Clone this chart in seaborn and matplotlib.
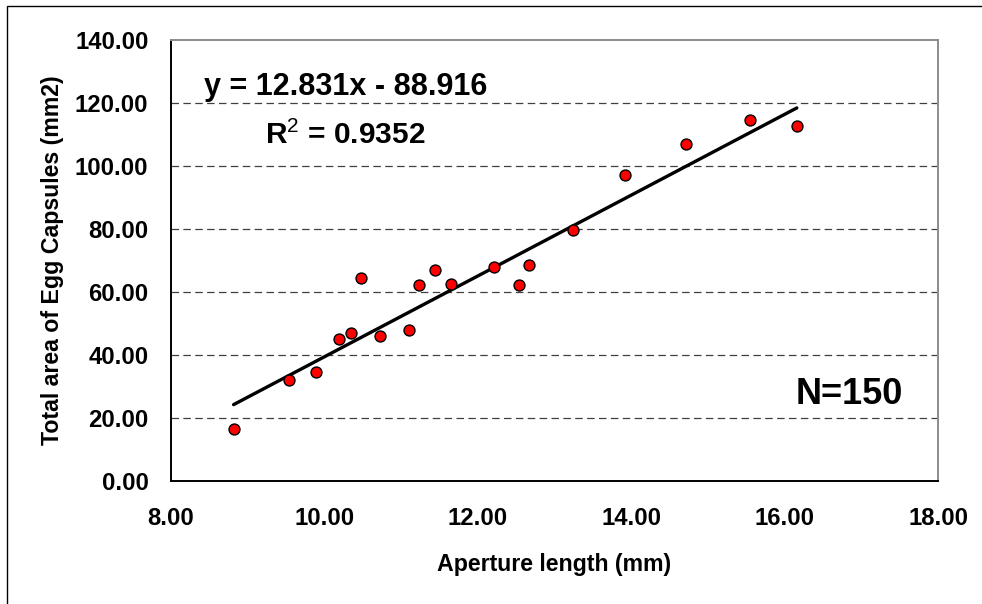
import numpy as np
import pandas as pd
import matplotlib
matplotlib.use("Agg")
import matplotlib.pyplot as plt
import seaborn as sns
from matplotlib.patches import Rectangle

# Data
aperture_mm = [8.82, 9.54, 9.89, 10.19, 10.35, 10.48, 10.73, 11.11, 11.24, 11.44,
               11.65, 12.21, 12.54, 12.67, 13.24, 13.92, 14.71, 15.55, 16.16]
capsule_area = [16.5, 32.2, 34.6, 45.2, 47.1, 64.6, 45.9, 47.8, 62.2, 67.1,
                62.7, 67.8, 62.2, 68.5, 79.6, 97.1, 107.0, 114.6, 112.7]
slope = 12.831
intercept = -88.916
r_squared = 0.9352
n_label = "N=150"
x_ticks = [8, 10, 12, 14, 16, 18]
y_ticks = [0, 20, 40, 60, 80, 100, 120, 140]

df = pd.DataFrame({"Aperture length (mm)": aperture_mm,
                   "Total area of Egg Capsules (mm2)": capsule_area})

sns.set_style("white")
plt.rcParams["font.family"] = ["Liberation Sans", "DejaVu Sans"]
plt.rcParams["mathtext.fontset"] = "custom"
plt.rcParams["mathtext.rm"] = "Liberation Sans"
plt.rcParams["mathtext.it"] = "Liberation Sans"
plt.rcParams["text.color"] = "black"
plt.rcParams["axes.labelcolor"] = "black"
plt.rcParams["xtick.color"] = "black"
plt.rcParams["ytick.color"] = "black"

fig = plt.figure(figsize=(9.82, 6.04), dpi=100)
ax = fig.add_axes([0.1738, 0.2036, 0.7814, 0.7302])

# outer frame of the pasted figure
fig.patches.append(Rectangle((7 / 982, -0.1), 1.2, 1.1 - 6 / 604, transform=fig.transFigure,
                             fill=False, edgecolor="black", linewidth=1.0))

# dashed horizontal gridlines
for yv in y_ticks[1:-1]:
    ax.axhline(yv, color="#404040", linestyle=(0, (6, 3.5)), linewidth=0.9, zorder=0)

# trendline from the reported equation
line_x = np.array([min(aperture_mm), max(aperture_mm)])
sns.lineplot(x=line_x, y=slope * line_x + intercept, color="black", linewidth=2.4, ax=ax, zorder=2)

sns.scatterplot(data=df, x="Aperture length (mm)", y="Total area of Egg Capsules (mm2)",
                color="#ff0000", edgecolor="black", linewidth=1.0, s=62, ax=ax, zorder=3)

ax.set_xlim(8, 18)
ax.set_ylim(0, 140)
ax.set_xticks(x_ticks)
ax.set_yticks(y_ticks)
ax.set_xticklabels([f"{v:.2f}" for v in x_ticks])
ax.set_yticklabels([f"{v:.2f}" for v in y_ticks])
ax.tick_params(axis="both", direction="out", length=6, width=1.2, color="black",
               labelcolor="black", labelsize=17.2)
ax.tick_params(axis="x", pad=13)
ax.tick_params(axis="y", pad=10)
for lab in ax.get_xticklabels() + ax.get_yticklabels():
    lab.set_fontweight("bold")

ax.set_xlabel("Aperture length (mm)", fontsize=16.7, fontweight="bold", labelpad=16, color="black")
ax.set_ylabel("Total area of Egg Capsules (mm2)", fontsize=16.7, fontweight="bold", labelpad=8,
              color="black")

ax.spines["left"].set_color("black")
ax.spines["bottom"].set_color("black")
ax.spines["top"].set_color("#8c8c8c")
ax.spines["right"].set_color("#8c8c8c")
for sp in ax.spines.values():
    sp.set_linewidth(1.4)

ax.text(0.228, 0.875, f"y = {slope}x - {abs(intercept)}", transform=ax.transAxes,
        ha="center", va="baseline", fontsize=22, fontweight="bold", color="black")
ax.text(0.228, 0.764, f"R$^2$ = {r_squared}", transform=ax.transAxes,
        ha="center", va="baseline", fontsize=21.5, fontweight="bold", color="black")
ax.text(0.954, 0.1746, n_label, transform=ax.transAxes,
        ha="right", va="baseline", fontsize=26, fontweight="bold", color="black")

plt.savefig("out.png", dpi=100)
